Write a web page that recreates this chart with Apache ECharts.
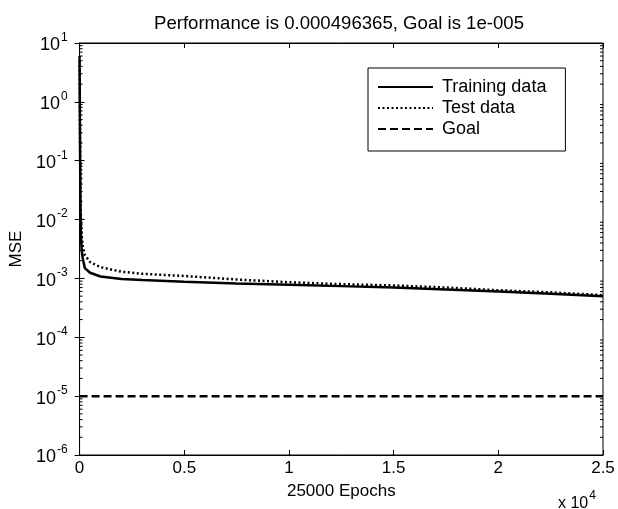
<!DOCTYPE html>
<html>
<head>
<meta charset="utf-8">
<script src="https://cdn.jsdelivr.net/npm/echarts@6/dist/echarts.min.js"></script>
<style>html,body{margin:0;padding:0;background:#fff}#c{width:618px;height:509px}</style>
</head>
<body>
<div id="c"></div>
<script>
const titleText = 'Performance is 0.000496365, Goal is 1e-005';
const epochs =       [0,   10,  25,  40,   60,   100,  150,   250,   500,    1000,   2000,   3000,   5000,   7500,   10000,  12500,  15000,  17500,  20000,  22500,  25000];
const trainingData = [5.5, 1.0, 0.1, 0.02, 6e-3, 3e-3, 2.2e-3, 1.5e-3, 1.25e-3, 1.08e-3, 9.8e-4, 9.4e-4, 8.8e-4, 8.2e-4, 7.8e-4, 7.4e-4, 7.0e-4, 6.5e-4, 6.0e-4, 5.5e-4, 4.96365e-4];
const testData =     [6.0, 1.5, 0.2, 0.04, 0.012,5.5e-3,3.5e-3, 2.5e-3, 1.9e-3,  1.55e-3, 1.3e-3, 1.2e-3, 1.1e-3, 9.6e-4, 8.6e-4, 8.0e-4, 7.6e-4, 7.0e-4, 6.3e-4, 5.8e-4, 5.2e-4];
const goalValue = 1e-5;
const seriesNames = ['Training data', 'Test data', 'Goal'];

const minorVals = [];
for (let n = -6; n <= 0; n++) for (let k = 2; k <= 9; k++) minorVals.push([0, k * Math.pow(10, n)]);

const font = 'Liberation Sans, Arial, sans-serif';
const chart = echarts.init(document.getElementById('c'));
const yLabel = {
  fontSize: 18, color: '#000', fontFamily: font, margin: 12,
  formatter: v => '{b|10}{s|' + Math.round(Math.log10(v)) + '}',
  rich: {
    b: {fontSize: 18, fontFamily: font, color: '#000', verticalAlign: 'bottom'},
    s: {fontSize: 12, fontFamily: font, color: '#000', verticalAlign: 'top', padding: [0, 0, 11, 1]}
  }
};
chart.setOption({
  animation: false,
  backgroundColor: '#fff',
  title: {text: titleText, left: 334, top: 9, textAlign: 'center',
    textStyle: {fontSize: 18.6, fontWeight: 'normal', color: '#000', fontFamily: font}},
  grid: {left: 79, right: 15, top: 43, bottom: 54, show: true, borderColor: '#000', borderWidth: 1},
  legend: {
    orient: 'vertical', left: 368, top: 68, data: seriesNames,
    borderColor: '#000', borderWidth: 1, padding: [9, 19, 12, 9], itemGap: 1,
    itemWidth: 55, itemHeight: 14, backgroundColor: '#fff',
    itemStyle: {color: 'rgba(0,0,0,0)', borderWidth: 0, opacity: 0},
    textStyle: {fontSize: 18, lineHeight: 20, color: '#000', fontFamily: font, padding: [0, 0, 0, 4]}
  },
  xAxis: [{
    type: 'value', min: 0, max: 25000, interval: 5000,
    name: '25000 Epochs', nameLocation: 'middle', nameGap: 28,
    nameTextStyle: {fontSize: 17, color: '#000', fontFamily: font},
    axisLine: {lineStyle: {color: '#000'}},
    axisTick: {inside: true, length: 5, lineStyle: {color: '#000'}},
    axisLabel: {fontSize: 17, color: '#000', fontFamily: font, margin: 5,
      formatter: v => String(v / 10000)},
    splitLine: {show: false}
  }, {
    type: 'value', min: 0, max: 25000, interval: 5000, position: 'top',
    axisLine: {lineStyle: {color: '#000'}},
    axisTick: {inside: true, length: 5, lineStyle: {color: '#000'}},
    axisLabel: {show: false}, splitLine: {show: false}
  }],
  yAxis: [{
    type: 'log', logBase: 10, min: 1e-6, max: 10,
    name: 'MSE', nameLocation: 'middle', nameGap: 52,
    nameTextStyle: {fontSize: 17, color: '#000', fontFamily: font},
    axisLine: {lineStyle: {color: '#000'}},
    axisTick: {inside: true, length: 5, lineStyle: {color: '#000'}},
    axisLabel: yLabel, splitLine: {show: false}
  }, {
    type: 'log', logBase: 10, min: 1e-6, max: 10, position: 'right',
    axisLine: {lineStyle: {color: '#000'}},
    axisTick: {inside: true, length: 5, lineStyle: {color: '#000'}},
    axisLabel: {show: false}, splitLine: {show: false}
  }],
  graphic: [{
    type: 'text', left: 558, top: 490,
    style: {text: '{a|x 10}{s|4}', rich: {
      a: {fontSize: 16, fontFamily: font, fill: '#000', verticalAlign: 'bottom'},
      s: {fontSize: 12, fontFamily: font, fill: '#000', verticalAlign: 'top', padding: [0, 0, 10, 1]}
    }}
  }],
  series: [
    {name: 'Training data', type: 'line', symbol: 'none', z: 4,
      data: epochs.map((e, i) => [e, trainingData[i]]),
      lineStyle: {color: '#000', width: 2.5, type: 'solid'}, itemStyle: {color: '#000'}},
    {name: 'Test data', type: 'line', symbol: 'none', z: 3,
      data: epochs.map((e, i) => [e, testData[i]]),
      lineStyle: {color: '#000', width: 2.5, type: [2, 2.5]}, itemStyle: {color: '#000'}},
    {name: 'Goal', type: 'line', symbol: 'none',
      data: [[0, goalValue], [25000, goalValue]],
      lineStyle: {color: '#000', width: 2.5, type: [8, 4]}, itemStyle: {color: '#000'}},
    {type: 'custom', silent: true, data: minorVals, clip: false,
      renderItem: (params, api) => {
        const y = api.coord([0, api.value(1)])[1];
        const cs = params.coordSys;
        const st = {stroke: '#000', lineWidth: 1};
        return {type: 'group', children: [
          {type: 'line', shape: {x1: cs.x, y1: y, x2: cs.x + 3, y2: y}, style: st},
          {type: 'line', shape: {x1: cs.x + cs.width - 3, y1: y, x2: cs.x + cs.width, y2: y}, style: st}
        ]};
      }}
  ]
});
</script>
</body>
</html>
